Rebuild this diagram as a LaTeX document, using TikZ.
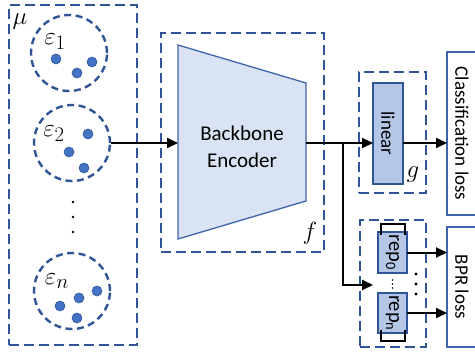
\documentclass[tikz,border=0pt]{standalone}
\usepackage{fontspec}
\setmainfont{Carlito}
\usetikzlibrary{arrows.meta,calc}
\definecolor{dblue}{HTML}{2F5597}
\definecolor{mblue}{HTML}{4472C4}
\definecolor{tblue}{HTML}{3E64AA}
\definecolor{lfill}{HTML}{DAE3F3}
\definecolor{lnfill}{HTML}{B4C7E7}
\begin{document}
\begin{tikzpicture}[x=1pt,y=-1pt,
  dbox/.style={draw=dblue, line width=2.8pt, dash pattern=on 10pt off 5pt, inner sep=0pt, outer sep=0pt},
  dcirc/.style={circle, draw=dblue, line width=2.4pt, dash pattern=on 7pt off 4.5pt, minimum size=76pt, inner sep=0pt},
  bdot/.style={circle, fill=mblue, draw=dblue, line width=0.6pt, minimum size=10pt, inner sep=0pt},
  kdot/.style={circle, fill=black, minimum size=2.6pt, inner sep=0pt},
  lbox/.style={draw=dblue, fill=lnfill, line width=1.5pt, inner sep=0pt, outer sep=0pt, font=\fontsize{19}{22}\selectfont},
  lossbox/.style={draw=tblue, fill=white, line width=1.5pt, inner sep=0pt, outer sep=0pt, font=\fontsize{19}{22}\selectfont},
  mlab/.style={font=\fontsize{26}{30}\selectfont, inner sep=0pt},
  elab/.style={font=\fontsize{30}{34}\selectfont, inner sep=0pt},
  conn/.style={line width=2pt, draw=black},
  arr/.style={conn, -{Triangle[length=11pt,width=10pt]}}
]
\useasboundingbox (0,0) rectangle (475,356);
\fill[white] (0,0) rectangle (475,356);
\clip (0,0) rectangle (475,356);

% input box mu
\node[dbox, minimum width=128pt, minimum height=340pt] (mu) at (73,175) {};
\node[mlab] (mulab) at (20,22) {$\mu$};

\node[dcirc] (e1) at (69,53) {};
\node[dcirc] (e2) at (72,143) {};
\node[dcirc] (en) at (72,291) {};
\node[elab] (e1lab) at (55,42) {$\varepsilon_1$};
\node[elab] (e2lab) at (54,134) {$\varepsilon_2$};
\node[elab] (enlab) at (57,281) {$\varepsilon_n$};

\node[bdot] (d11) at (56,59) {};
\node[bdot] (d12) at (77,73) {};
\node[bdot] (d13) at (92,62) {};
\node[bdot] (d21) at (88,134) {};
\node[bdot] (d22) at (69,152) {};
\node[bdot] (d23) at (84,168) {};
\node[bdot] (dn1) at (60,306) {};
\node[bdot] (dn2) at (79,298) {};
\node[bdot] (dn3) at (97,291) {};
\node[bdot] (dn4) at (77,318) {};

\node[kdot] (v1) at (73,202) {};
\node[kdot] (v2) at (73,217) {};
\node[kdot] (v3) at (73,232) {};

% backbone
\node[dbox, minimum width=163pt, minimum height=219pt] (fbox) at (242.5,142.5) {};
\draw[draw=tblue, fill=lfill, line width=1.3pt] (178,45) -- (306,83) -- (306,201) -- (178,239) -- cycle;
\coordinate (encin) at (178,143);
\coordinate (encout) at (306,143);
\node[font=\fontsize{21}{27}\selectfont, align=center] (enc) at (242,147) {Backbone\\Encoder};
\node[mlab] (flab) at (310,233) {$f$};

% classifier head
\node[dbox, minimum width=67pt, minimum height=121pt] (gbox) at (392.5,132.5) {};
\node[lbox, minimum width=30pt, minimum height=101pt] (lin) at (388,133.5) {\rotatebox{-90}{linear}};
\node[mlab] (glab) at (413,175) {$g$};
\node[lossbox, minimum width=30pt, minimum height=163pt] (cls) at (462,133.5) {\rotatebox{-90}{Classification loss}};

% rep head
\node[dbox, minimum width=66pt, minimum height=127pt] (rbox) at (393,283.5) {};
\node[lbox, minimum width=29pt, minimum height=41pt, font=\fontsize{20.5}{22}\selectfont] (r0) at (392.5,252.5) {\rotatebox{-90}{rep\textsubscript{0}}};
\node[lbox, minimum width=29pt, minimum height=40pt, font=\fontsize{20.5}{22}\selectfont] (rn) at (392.5,313) {\rotatebox{-90}{rep\textsubscript{n}}};
\node[lossbox, minimum width=30pt, minimum height=120pt] (bpr) at (462,287) {\rotatebox{-90}{BPR loss}};

\draw[line width=2.4pt] ($(r0.north west)+(3,3)$) -- ($(r0.north west)+(3,-8)$) -- ($(r0.north east)+(-2,-8)$) -- ($(r0.north east)+(-2,3)$);
\draw[line width=2.4pt] ($(rn.south west)+(3,-3)$) -- ($(rn.south west)+(3,8)$) -- ($(rn.south east)+(-2,8)$) -- ($(rn.south east)+(-2,-3)$);

\node[kdot, minimum size=1.8pt] (s1) at (392.5,280) {};
\node[kdot, minimum size=1.8pt] (s2) at (392.5,284) {};
\node[kdot, minimum size=1.8pt] (s3) at (392.5,288) {};
\node[kdot, minimum size=3.2pt] (t1) at (416,274) {};
\node[kdot, minimum size=3.2pt] (t2) at (416,284) {};
\node[kdot, minimum size=3.2pt] (t3) at (416,294) {};

% connectors
\coordinate (jn) at (343,143);
\coordinate (rin) at (373,285);
\draw[arr] (e2.east) -- (encin);
\draw[conn] (encout) -- (jn);
\draw[arr] (jn) -- (jn -| lin.west);
\draw[arr] (lin.east |- jn) -- (cls.west |- jn);
\draw[arr] (jn) -- (jn |- rin) -- (rin);
\draw[arr] (r0.east) -- (r0.east -| bpr.west);
\draw[arr] (rn.east) -- (rn.east -| bpr.west);
\end{tikzpicture}
\end{document}
